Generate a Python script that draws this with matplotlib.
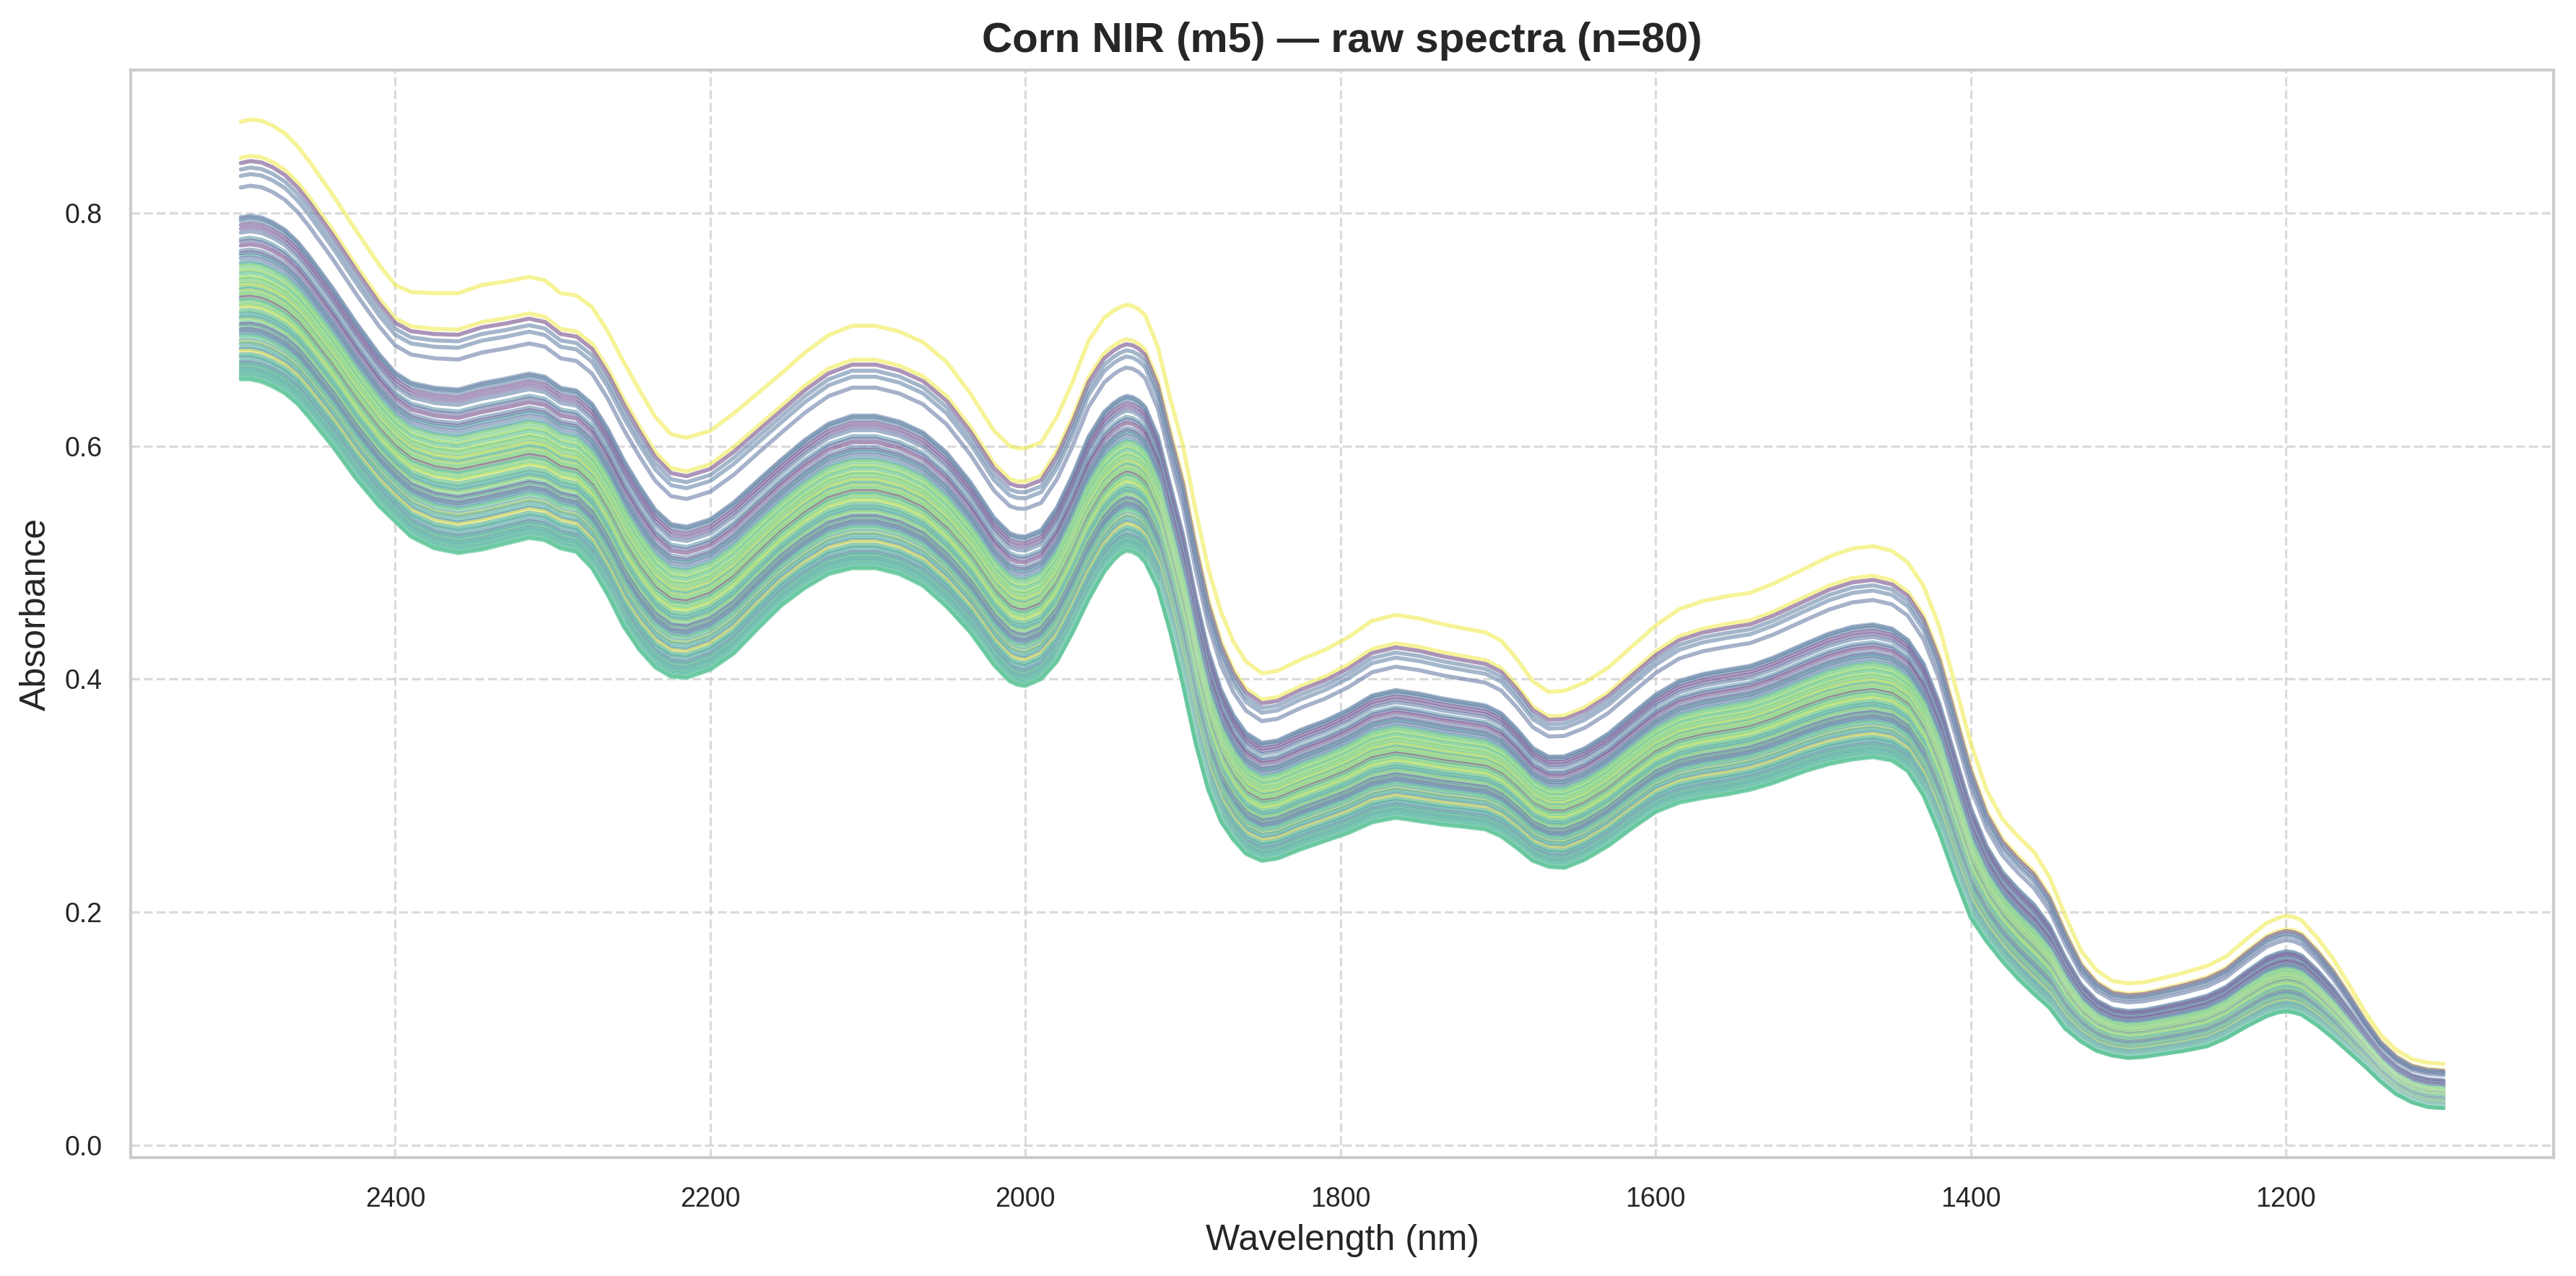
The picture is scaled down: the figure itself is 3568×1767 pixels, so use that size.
import matplotlib
matplotlib.use("Agg")
import matplotlib.pyplot as plt
import matplotlib.patheffects as pe
import numpy as np
import seaborn as sns

# wavelength grid (nm) and the upper / lower envelope of the 80 spectra
wavelengths = [2498, 2492, 2485, 2478, 2470, 2462, 2455, 2440, 2425, 2410, 2400, 2390, 2375, 2360,
               2345, 2330, 2315, 2305, 2295, 2285, 2275, 2265, 2255, 2245, 2235, 2225, 2215, 2200,
               2185, 2170, 2155, 2140, 2125, 2110, 2095, 2080, 2065, 2050, 2035, 2020, 2010, 2005,
               2000, 1990, 1980, 1970, 1960, 1950, 1944, 1940, 1936, 1932, 1928, 1924, 1916, 1908,
               1900, 1892, 1884, 1876, 1868, 1860, 1850, 1840, 1825, 1810, 1795, 1780, 1765, 1750,
               1735, 1720, 1708, 1698, 1688, 1678, 1668, 1658, 1645, 1630, 1615, 1600, 1585, 1570,
               1555, 1540, 1525, 1505, 1490, 1475, 1462, 1450, 1440, 1430, 1420, 1410, 1400, 1390,
               1380, 1370, 1360, 1350, 1340, 1330, 1320, 1310, 1300, 1290, 1280, 1265, 1250, 1238,
               1225, 1212, 1205, 1200, 1195, 1190, 1180, 1170, 1160, 1150, 1140, 1130, 1120, 1110,
               1100]

upper = [0.878, 0.880, 0.879, 0.875, 0.868, 0.857, 0.845, 0.816, 0.785, 0.755, 0.738, 0.732, 0.731,
         0.731, 0.738, 0.741, 0.745, 0.742, 0.731, 0.729, 0.719, 0.698, 0.672, 0.648, 0.625, 0.610,
         0.607, 0.613, 0.628, 0.645, 0.662, 0.680, 0.695, 0.703, 0.703, 0.698, 0.689, 0.672, 0.645,
         0.613, 0.600, 0.598, 0.598, 0.603, 0.625, 0.655, 0.690, 0.710, 0.716, 0.719, 0.721, 0.720,
         0.717, 0.712, 0.685, 0.640, 0.600, 0.545, 0.495, 0.458, 0.432, 0.415, 0.405, 0.407, 0.417,
         0.425, 0.436, 0.450, 0.455, 0.452, 0.447, 0.443, 0.440, 0.433, 0.417, 0.398, 0.389, 0.390,
         0.397, 0.410, 0.428, 0.446, 0.460, 0.467, 0.471, 0.474, 0.482, 0.495, 0.505, 0.512, 0.514,
         0.510, 0.500, 0.480, 0.445, 0.395, 0.345, 0.305, 0.280, 0.265, 0.252, 0.230, 0.197, 0.167,
         0.150, 0.141, 0.139, 0.140, 0.143, 0.148, 0.154, 0.162, 0.177, 0.191, 0.195, 0.197, 0.196,
         0.193, 0.178, 0.160, 0.138, 0.115, 0.095, 0.082, 0.074, 0.071, 0.070]

lower = [0.657, 0.657, 0.655, 0.651, 0.645, 0.636, 0.625, 0.600, 0.572, 0.548, 0.535, 0.522, 0.512,
         0.508, 0.511, 0.516, 0.521, 0.519, 0.512, 0.509, 0.495, 0.472, 0.445, 0.425, 0.410, 0.402,
         0.401, 0.408, 0.422, 0.443, 0.463, 0.478, 0.490, 0.495, 0.495, 0.490, 0.480, 0.462, 0.440,
         0.412, 0.398, 0.395, 0.394, 0.400, 0.415, 0.440, 0.468, 0.492, 0.502, 0.507, 0.510, 0.509,
         0.506, 0.500, 0.478, 0.440, 0.395, 0.345, 0.305, 0.278, 0.262, 0.250, 0.244, 0.246, 0.254,
         0.261, 0.268, 0.277, 0.281, 0.278, 0.275, 0.273, 0.271, 0.265, 0.255, 0.244, 0.239, 0.238,
         0.245, 0.257, 0.272, 0.286, 0.294, 0.298, 0.301, 0.305, 0.311, 0.321, 0.327, 0.331, 0.333,
         0.330, 0.321, 0.300, 0.268, 0.230, 0.195, 0.175, 0.158, 0.143, 0.130, 0.118, 0.100, 0.089,
         0.081, 0.077, 0.075, 0.076, 0.078, 0.081, 0.085, 0.092, 0.102, 0.111, 0.114, 0.115, 0.114,
         0.112, 0.103, 0.092, 0.080, 0.068, 0.055, 0.044, 0.037, 0.033, 0.032]

# position of each sample between lower (0) and upper (1) envelope, read at 2498 nm
sample_level = [1.0, 0.86, 0.84, 0.815, 0.79, 0.745,
                0.63, 0.625, 0.615, 0.60, 0.585, 0.57, 0.545, 0.535, 0.52, 0.50,
                0.49, 0.482, 0.47, 0.455, 0.447, 0.44, 0.428, 0.42, 0.412, 0.40,
                0.393, 0.388, 0.378, 0.37, 0.365, 0.356, 0.35, 0.342, 0.333, 0.328,
                0.318, 0.31, 0.305, 0.295, 0.288, 0.28, 0.268, 0.262, 0.255, 0.245,
                0.24, 0.232, 0.22, 0.214, 0.205, 0.195, 0.19, 0.18, 0.172, 0.165,
                0.152, 0.145, 0.138, 0.125, 0.118, 0.11, 0.098, 0.092, 0.085, 0.072,
                0.066, 0.06, 0.054, 0.048, 0.042, 0.036, 0.03, 0.024, 0.018, 0.014,
                0.01, 0.006, 0.003, 0.0]

# colour value of each sample (viridis)
sample_color = [0.97, 0.97, 0.05, 0.30, 0.30, 0.25,
                0.30, 0.28, 0.33, 0.08, 0.12, 0.28, 0.40, 0.22, 0.05, 0.31, 0.15, 0.45, 0.26, 0.38,
                0.55, 0.78, 0.70, 0.86, 0.62, 0.74, 0.90, 0.66, 0.82, 0.58, 0.94, 0.72, 0.50, 0.88,
                0.64, 0.80, 0.03, 0.76, 0.60, 0.84, 0.68, 0.92, 0.56, 0.75,
                0.48, 0.62, 0.44, 0.82, 0.58, 0.12, 0.66, 0.08, 0.42, 0.30, 0.52, 0.72, 0.40, 0.86,
                0.46, 0.60, 0.35, 0.97, 0.50, 0.68,
                0.44, 0.55, 0.20, 0.62, 0.48, 0.70, 0.40, 0.58, 0.52, 0.66, 0.46, 0.60, 0.64, 0.62,
                0.66, 0.65]

sns.set_theme(style="whitegrid")
plt.rcParams['font.family'] = ['Liberation Sans', 'DejaVu Sans']

fig = plt.figure(figsize=(3568 / 300, 1767 / 300), dpi=300)
ax = fig.add_axes([181 / 3568, 1 - 1603 / 1767, (3537 - 181) / 3568, (1603 - 97) / 1767])

wl = np.array(wavelengths)
lo = np.array(lower)
hi = np.array(upper)
cmap = plt.get_cmap('viridis')

# faint white halo under each line, so neighbouring spectra stay apart
halo = [pe.Stroke(linewidth=1.6, foreground='white', alpha=0.3), pe.Normal()]
for p, c in zip(sample_level, sample_color):
    spectrum = lo + p * (hi - lo)
    ax.plot(wl, spectrum, color=cmap(c), alpha=0.45, linewidth=1.35, path_effects=halo)

ax.invert_xaxis()
ax.set_title('Corn NIR (m5) — raw spectra (n=80)', fontsize=14, fontweight='bold')
ax.set_xlabel('Wavelength (nm)', fontsize=12)
ax.set_ylabel('Absorbance', fontsize=12)
ax.tick_params(labelsize=9)
ax.grid(True, linestyle='--', color='#cccccc', alpha=0.7, linewidth=0.8)
for s in ax.spines.values():
    s.set_color('#cccccc')
    s.set_linewidth(1.0)

fig.savefig('out.png', dpi=300)
